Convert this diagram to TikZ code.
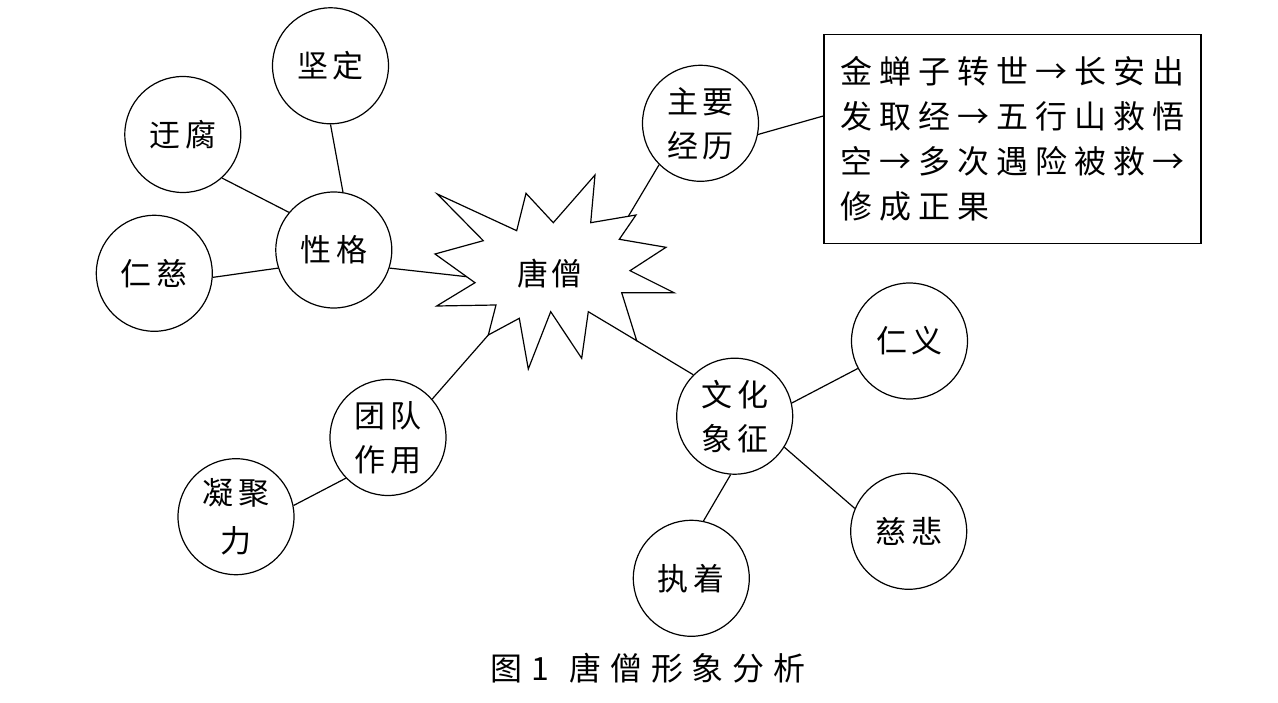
\documentclass[tikz,border=0pt]{standalone}
\usepackage{fontspec}
\newfontfamily\cjk{Noto Sans CJK SC}
\newfontfamily\cjkbox[LetterSpace=22]{Noto Sans CJK SC}
\newfontfamily\cjkcap[LetterSpace=27]{Noto Sans CJK SC}
\newcommand{\cg}{\hspace{0.15em}}
\tikzset{
  circ/.style={circle, draw, line width=1.2pt, minimum size=116pt, inner sep=0pt,
    font=\cjk\fontsize{31}{44}\selectfont, align=center},
  conn/.style={line width=1.2pt},
  starline/.style={line width=1.2pt, line join=miter},
  infobox/.style={draw, line width=1.2pt, minimum width=377pt, minimum height=209pt,
    inner sep=0pt, anchor=north west, align=left, font=\cjkbox\fontsize{32}{45}\selectfont},
  caption/.style={font=\cjkcap\fontsize{32}{40}\selectfont, inner sep=0pt}
}
\begin{document}
\begin{tikzpicture}[x=1pt,y=-1pt]
\useasboundingbox (0,0) rectangle (1278,703);
% starburst vertices
\coordinate (s1) at (437.3,194);
\coordinate (s2) at (516.7,230.7);
\coordinate (s3) at (526,193.3);
\coordinate (s4) at (553.3,222.7);
\coordinate (s5) at (595,175);
\coordinate (s6) at (590.7,222.7);
\coordinate (s7) at (636,215);
\coordinate (s8) at (619.3,239.3);
\coordinate (s9) at (666,247.3);
\coordinate (s10) at (630,270.7);
\coordinate (s11) at (674,292.7);
\coordinate (s12) at (621.7,292.7);
\coordinate (s13) at (636.7,340.7);
\coordinate (s14) at (588.3,311.7);
\coordinate (s15) at (581.7,358.3);
\coordinate (s16) at (550.7,311.7);
\coordinate (s17) at (528.3,369);
\coordinate (s18) at (519.3,318.3);
\coordinate (s19) at (488.3,335);
\coordinate (s20) at (496,305);
\coordinate (s21) at (436.7,306);
\coordinate (s22) at (475,282.7);
\coordinate (s23) at (435,254);
\coordinate (s24) at (483.3,240.7);
\draw[starline] (s1) -- (s2) -- (s3) -- (s4) -- (s5) -- (s6) -- (s7) -- (s8)
  -- (s9) -- (s10) -- (s11) -- (s12) -- (s13) -- (s14) -- (s15) -- (s16)
  -- (s17) -- (s18) -- (s19) -- (s20) -- (s21) -- (s22) -- (s23) -- (s24) -- cycle;
\node[font=\cjk\fontsize{31}{36}\selectfont, inner sep=0pt] (ts) at (550,274) {唐\hspace{0.12em}僧};
% edge points on the starburst
\coordinate (exg) at (466.7,276.7);
\coordinate (ezy) at (628.3,216.4);

% circles
\node[circ] (jd) at (330.5,65.8) {坚\cg 定};
\node[circ] (yf) at (182.8,134.5) {迂\cg 腐};
\node[circ] (rc) at (154.3,273.3) {仁\cg 慈};
\node[circ] (xg) at (333.8,250) {性\cg 格};
\node[circ] (zy) at (700.5,123.3) {主\cg 要\\经\cg 历};
\node[circ] (td) at (388,437.5) {团\cg 队\\作\cg 用};
\node[circ, font=\cjk\fontsize{31}{48}\selectfont] (nj) at (236,516.7) {凝\cg 聚\\力};
\node[circ] (wh) at (734.7,416.2) {文\cg 化\\象\cg 征};
\node[circ] (ry) at (909.5,341) {仁\cg 义};
\node[circ] (cb) at (908.7,531.3) {慈\cg 悲};
\node[circ] (zz) at (691.3,578.3) {执\cg 着};

% info box
\node[infobox] (box) at (823.3,34) {金蝉子转世→长安出\\发取经→五行山救悟\\空→多次遇险被救→\\修成正果};
\coordinate (ebox) at (823.3,116);

% connectors
\draw[conn] (jd.-90) -- (xg.81);
\draw[conn] (yf.-48) -- (xg.140.5);
\draw[conn] (rc.-4) -- (xg.-162);
\draw[conn] (xg.-18) -- (exg);
\draw[conn] (zy.-135) -- (ezy);
\draw[conn] (zy.-11) -- (ebox);
\draw[conn] (td.41.6) -- (s19);
\draw[conn] (td.-136) -- (nj.11.4);
\draw[conn] (wh.135.5) -- (s13);
\draw[conn] (wh.13) -- (ry.-152);
\draw[conn] (wh.-32.8) -- (cb.157.5);
\draw[conn] (wh.-94.6) -- (zz.78);

% caption
\node[caption] (cap) at (648,668) {图1\hspace{0.15em} 唐僧形象分析};
\end{tikzpicture}
\end{document}
